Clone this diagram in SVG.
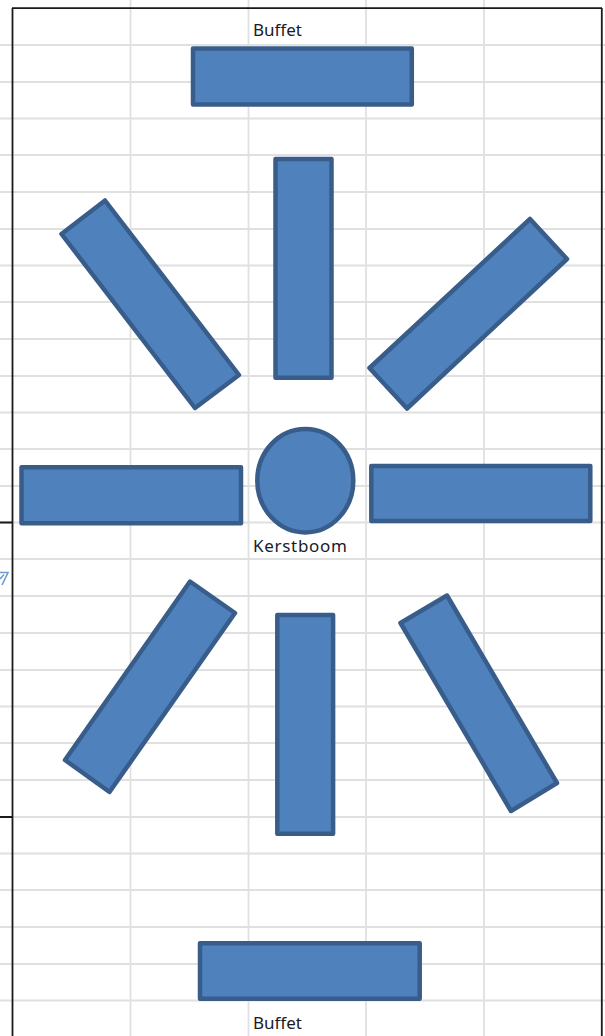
<svg xmlns="http://www.w3.org/2000/svg" width="605" height="1036" viewBox="0 0 605 1036">
<style>
.g{stroke:#e0e0e0;stroke-width:1.800;fill:none}
.b{stroke:#1a1a1a;stroke-width:1.800;fill:none}
.s{fill:#4f81bd;stroke:#385d8a;stroke-width:4.500;stroke-linejoin:round}
text{font-family:"Noto Sans","Liberation Sans",sans-serif;font-size:17px;fill:#1a1a2a}
</style>
<rect width="605" height="1036" fill="#fff"/>
<g id="grid">
<path class="g" d="M0 45H605M0 82H605M0 118.500H605M0 155H605M0 192H605M0 229H605M0 265.500H605M0 302H605M0 339H605M0 376H605M0 412.500H605M0 449H605M0 486H605M0 522.500H605M0 559H605M0 596H605M0 633H605M0 670H605M0 706.500H605M0 743H605M0 780H605M0 817H605M0 853.500H605M0 890H605M0 927H605M0 964H605M0 1000.500H605"/>
<path class="g" d="M130.500 0V1036M248.500 0V1036M366 0V1036M484 0V1036"/>
<path class="b" d="M12.500 8V1036M12 8.200H602M601.800 8V1036M0 522.500H12.500M0 817H12.500"/>
<path d="M0 572.500H8L2 585M4 574.500L0 579" fill="none" stroke="#6f9bd0" stroke-width="1.600"/>
</g>
<g id="buffet-top"><rect class="s" x="193" y="48.500" width="218.800" height="56"/><text x="253" y="36">Buffet</text></g>
<g id="table-n"><rect class="s" x="275.500" y="159" width="56" height="218.700"/></g>
<g id="table-nw"><polygon class="s" points="105,200.500 239,375 195,408 61.500,234"/></g>
<g id="table-ne"><polygon class="s" points="530,219 567,259 407,408.500 369.500,368"/></g>
<g id="table-w"><rect class="s" x="21.500" y="467.200" width="219.500" height="56"/></g>
<g id="table-e"><rect class="s" x="371.300" y="466" width="219" height="55"/></g>
<g id="kerstboom"><ellipse class="s" cx="305.300" cy="480.700" rx="48" ry="51.700"/><text x="253" y="551.500" letter-spacing="0.700">Kerstboom</text></g>
<g id="table-sw"><polygon class="s" points="190,581.500 235,613 109.500,792 65,760"/></g>
<g id="table-s"><rect class="s" x="277.300" y="615" width="55.800" height="218.800"/></g>
<g id="table-se"><polygon class="s" points="447,595.500 557,783 511,811 400.500,623"/></g>
<g id="buffet-bottom"><rect class="s" x="200" y="943.300" width="219.700" height="55.500"/><text x="253" y="1029">Buffet</text></g>
<g id="connectors"></g>
</svg>
